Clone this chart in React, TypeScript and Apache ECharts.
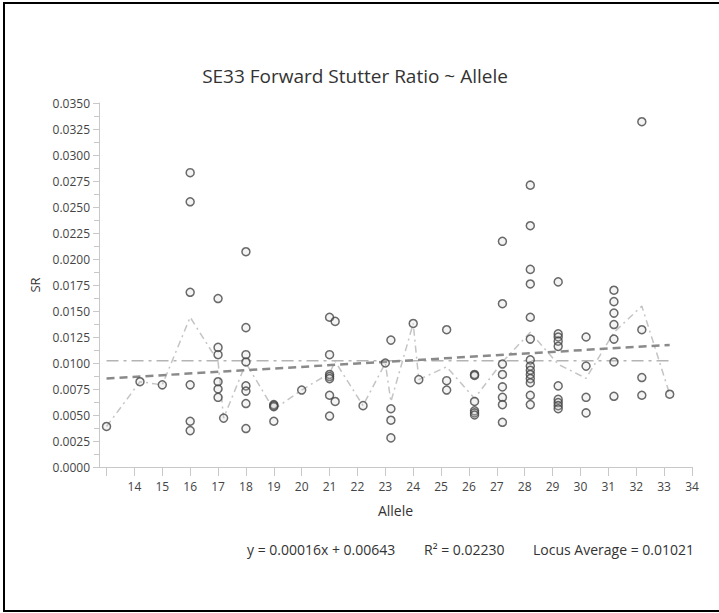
import React, { useEffect, useRef } from "react";
import * as echarts from "echarts";

const alleles = [13, 14.2, 15, 16, 17, 17.2, 18, 19, 20, 21, 21.2, 22.2, 23, 23.2, 24, 24.2, 25.2, 26.2, 27.2, 28.2, 29.2, 30.2, 31.2, 32.2, 33.2];
const srByAllele: number[][] = [
  [0.0039],
  [0.0082],
  [0.0079],
  [0.0283, 0.0255, 0.0168, 0.0079, 0.0044, 0.0035],
  [0.0162, 0.0115, 0.0108, 0.0082, 0.0075, 0.0067],
  [0.0047],
  [0.0207, 0.0134, 0.0108, 0.0101, 0.0078, 0.0073, 0.0061, 0.0037],
  [0.006, 0.0059, 0.0058, 0.0044],
  [0.0074],
  [0.0144, 0.0108, 0.0089, 0.0087, 0.0085, 0.0069, 0.0049],
  [0.014, 0.0063],
  [0.0059],
  [0.01],
  [0.0122, 0.0056, 0.0045, 0.0028],
  [0.0138],
  [0.0084],
  [0.0132, 0.0083, 0.0074],
  [0.0089, 0.0088, 0.0063, 0.0054, 0.0052, 0.005],
  [0.0217, 0.0157, 0.0099, 0.0089, 0.0077, 0.0067, 0.006, 0.0043],
  [0.0271, 0.0232, 0.019, 0.0176, 0.0144, 0.0123, 0.0103, 0.0097, 0.0093, 0.0089, 0.0085, 0.0081, 0.0069, 0.006],
  [0.0178, 0.0128, 0.0125, 0.0121, 0.0116, 0.0078, 0.0065, 0.0062, 0.0059, 0.0056],
  [0.0125, 0.0097, 0.0067, 0.0052],
  [0.017, 0.0159, 0.0148, 0.0137, 0.0123, 0.0101, 0.0068],
  [0.0332, 0.0132, 0.0086, 0.0069],
  [0.007],
];
const xTickValues = [13, 14, 15, 16, 17, 18, 19, 20, 21, 22, 23, 24, 25, 26, 27, 28, 29, 30, 31, 32, 33, 34];
const xLabelValues = [14, 15, 16, 17, 18, 19, 20, 21, 22, 23, 24, 25, 26, 27, 28, 29, 30, 31, 32, 33, 34];
const trendSlope = 0.00016;
const trendIntercept = 0.00643;
const rSquared = 0.0223;
const locusAverage = 0.01021;
const titleText = "SE33 Forward Stutter Ratio ~ Allele";

const FONT = "'Open Sans', 'Noto Sans', sans-serif";

export default function App() {
  const ref = useRef<HTMLDivElement>(null);
  useEffect(() => {
    if (!ref.current) return;
    const chart = echarts.init(ref.current, null, { renderer: "svg" });
    const points: number[][] = [];
    alleles.forEach((a, i) => srByAllele[i].forEach((v) => points.push([a, v])));
    const means = alleles.map((a, i) => [a, srByAllele[i].reduce((s, v) => s + v, 0) / srByAllele[i].length]);
    const xFirst = alleles[0];
    const xLast = alleles[alleles.length - 1];
    const trend = [xFirst, xLast].map((x) => [x, trendSlope * x + trendIntercept]);
    const avg = [[xFirst, locusAverage], [xLast, locusAverage]];

    chart.setOption({
      animation: false,
      textStyle: { fontFamily: FONT },
      grid: { left: 99, top: 103, right: 27, bottom: 146, containLabel: false },
      xAxis: {
        type: "value",
        min: 12.73,
        max: 34,
        name: "Allele",
        nameLocation: "middle",
        nameGap: 36,
        nameTextStyle: { fontSize: 14, color: "#333", fontFamily: FONT },
        axisLine: { show: true, lineStyle: { color: "#c8c8c8", width: 1 } },
        axisTick: { show: true, length: 9, lineStyle: { color: "#c8c8c8" }, customValues: xTickValues },
        axisLabel: { fontSize: 12, color: "#444", margin: 13, customValues: xLabelValues, fontFamily: FONT },
        splitLine: { show: false },
      },
      yAxis: {
        type: "value",
        min: 0,
        max: 0.035,
        interval: 0.0025,
        name: "SR",
        nameLocation: "middle",
        nameGap: 56,
        nameTextStyle: { fontSize: 13, color: "#333", fontFamily: FONT },
        axisLine: { show: true, lineStyle: { color: "#c8c8c8", width: 1 } },
        axisTick: { show: true, length: 6, lineStyle: { color: "#c8c8c8" } },
        minorTick: { show: true, splitNumber: 2, length: 5, lineStyle: { color: "#c8c8c8" } },
        axisLabel: { fontSize: 12, color: "#444", margin: 9, formatter: (v: number) => v.toFixed(4), fontFamily: FONT },
        splitLine: { show: false },
      },
      series: [
        {
          type: "line",
          data: avg,
          symbol: "none",
          lineStyle: { color: "#b4b4b4", width: 1.5, type: [12, 5, 3, 5] },
          z: 1,
        },
        {
          type: "line",
          data: means,
          symbol: "none",
          lineStyle: { color: "#c4c4c4", width: 1.5, type: [7, 4, 2, 4] },
          z: 2,
        },
        {
          type: "line",
          data: trend,
          symbol: "none",
          lineStyle: { color: "#8a8a8a", width: 2.5, type: [8, 5] },
          z: 3,
        },
        {
          type: "scatter",
          data: points,
          symbol: "circle",
          symbolSize: 8,
          itemStyle: { color: "rgba(200,200,200,0.25)", borderColor: "#454545", borderWidth: 1.5 },
          z: 4,
        },
      ],
      graphic: [
        { type: "rect", shape: { x: 3, y: 2, width: 716, height: 2 }, style: { fill: "#000" } },
        { type: "rect", shape: { x: 3, y: 2, width: 2, height: 610 }, style: { fill: "#000" } },
        { type: "rect", shape: { x: 3, y: 610, width: 716, height: 2 }, style: { fill: "#000" } },
        {
          type: "text",
          x: 355,
          y: 76,
          style: { text: titleText, fontSize: 19, fill: "#333", fontFamily: FONT, align: "center", verticalAlign: "middle" },
        },
        {
          type: "text",
          x: 247,
          y: 549,
          style: { text: `y = ${trendSlope.toFixed(5)}x + ${trendIntercept.toFixed(5)}`, fontSize: 14, fill: "#333", fontFamily: FONT, align: "left", verticalAlign: "middle" },
        },
        {
          type: "text",
          x: 424,
          y: 549,
          style: { text: `R² = ${rSquared.toFixed(5)}`, fontSize: 14, fill: "#333", fontFamily: FONT, align: "left", verticalAlign: "middle" },
        },
        {
          type: "text",
          x: 533,
          y: 549,
          style: { text: `Locus Average = ${locusAverage.toFixed(5)}`, fontSize: 14, fill: "#333", fontFamily: FONT, align: "left", verticalAlign: "middle" },
        },
      ],
    });
    return () => chart.dispose();
  }, []);
  return <div ref={ref} style={{ position: "fixed", left: 0, top: 0, width: 719, height: 613, background: "#fff" }} />;
}
